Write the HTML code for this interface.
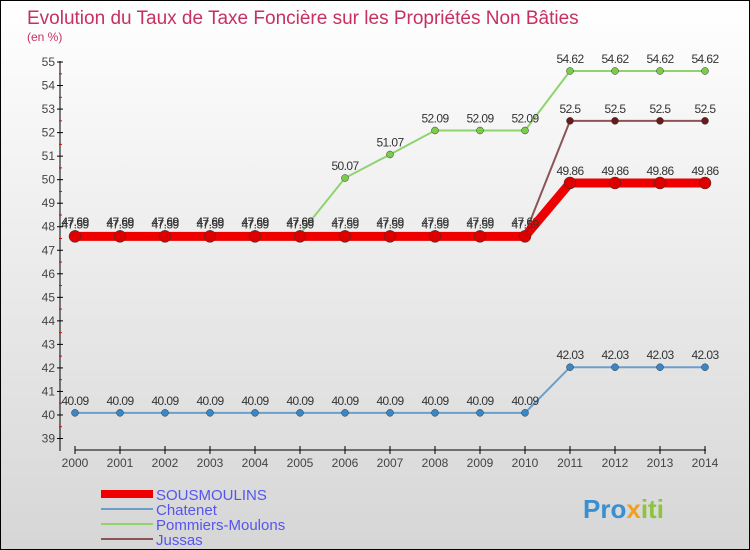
<!DOCTYPE html>
<html><head><meta charset="utf-8"><style>
body{margin:0}
#c{width:748px;height:548px;border:1px solid #000;background:linear-gradient(#fff,#d6d6d6);position:relative;font-family:"Liberation Sans",sans-serif;overflow:hidden}
</style></head><body>
<div id="c">
<svg id="s" width="748" height="548">
<text x="26" y="23" font-size="19" font-weight="normal" fill="#c8305f">Evolution du Taux de Taxe Foncière sur les Propriétés Non Bâties</text>
<text x="26" y="40" font-size="12" fill="#c8305f">(en %)</text>
<g id="g"></g>
<g>
<rect x="100" y="489" width="52" height="8" fill="#e00"/>
<text x="155" y="499" font-size="15" fill="#5555ee">SOUSMOULINS</text>
<rect x="100" y="507" width="52" height="2" fill="#6a9fcc"/>
<text x="155" y="514" font-size="15" fill="#5555ee">Chatenet</text>
<rect x="100" y="522" width="52" height="2" fill="#8fd36f"/>
<text x="155" y="529" font-size="15" fill="#5555ee">Pommiers-Moulons</text>
<rect x="100" y="537" width="52" height="2" fill="#8b5555"/>
<text x="155" y="544" font-size="15" fill="#5555ee">Jussas</text>
</g>
<text x="582" y="517" font-size="26" font-weight="bold" fill="#3a8fd0">Pro<tspan fill="#f0a020">x</tspan><tspan fill="#8cc43c">iti</tspan></text>
</svg>
</div>
<script>
const years=[2000,2001,2002,2003,2004,2005,2006,2007,2008,2009,2010,2011,2012,2013,2014];
const yTicks=[39,40,41,42,43,44,45,46,47,48,49,50,51,52,53,54,55];
const sousmoulins=[47.59,47.59,47.59,47.59,47.59,47.59,47.59,47.59,47.59,47.59,47.59,49.86,49.86,49.86,49.86];
const chatenet=[40.09,40.09,40.09,40.09,40.09,40.09,40.09,40.09,40.09,40.09,40.09,42.03,42.03,42.03,42.03];
const pommiers=[47.69,47.69,47.69,47.69,47.69,47.69,50.07,51.07,52.09,52.09,52.09,54.62,54.62,54.62,54.62];
const jussas=[47.69,47.69,47.69,47.69,47.69,47.69,47.69,47.69,47.69,47.69,47.69,52.5,52.5,52.5,52.5];
const NS="http://www.w3.org/2000/svg",g=document.getElementById('g');
const X=i=>74+45*i, Y=v=>437.5-(v-39)*23.53;
function el(t,a,p){const e=document.createElementNS(NS,t);for(const k in a)e.setAttribute(k,a[k]);(p||g).appendChild(e);return e;}
let e=el('line',{x1:59,y1:60,x2:59,y2:450,stroke:'#000'});


e=el('line',{x1:74,y1:449,x2:705,y2:449,stroke:'#000'});


yTicks.forEach(v=>{el('line',{x1:56,x2:62,y1:Y(v),y2:Y(v),stroke:'#000'});
if(v<55)el('line',{x1:58,x2:61,y1:Y(v+0.5),y2:Y(v+0.5),stroke:'#e00'});
const t=el('text',{x:54,y:Y(v)+4,'font-size':12,fill:'#444','text-anchor':'end'});t.textContent=v;

});
years.forEach((y,i)=>{el('line',{x1:X(i),x2:X(i),y1:445,y2:453,stroke:'#000'});
const t=el('text',{x:X(i),y:466,'font-size':12,fill:'#444','text-anchor':'middle'});t.textContent=y;

});
function series(name,d,col,w,r,dot){
const p=el('polyline',{points:d.map((v,i)=>X(i)+','+Y(v)).join(' '),fill:'none',stroke:col,'stroke-width':w});


d.forEach((v,i)=>{const c=el('circle',{cx:X(i),cy:Y(v),r:r,fill:dot,stroke:'#333','stroke-width':0.5});


const t=el('text',{x:X(i),y:Y(v)-8,'font-size':12,fill:'#333','text-anchor':'middle','letter-spacing':'-0.6'});
t.textContent=String(v);

});}
series('chatenet',chatenet,'#6a9fcc',2,3.5,'#3a86c6');
series('pommiers',pommiers,'#8fd36f',2,3.5,'#7ccc4c');
series('jussas',jussas,'#8b5555',2,3.5,'#6b1a1a');
series('sousmoulins',sousmoulins,'#e00',9,6,'#d00');
</script>
</body></html>
